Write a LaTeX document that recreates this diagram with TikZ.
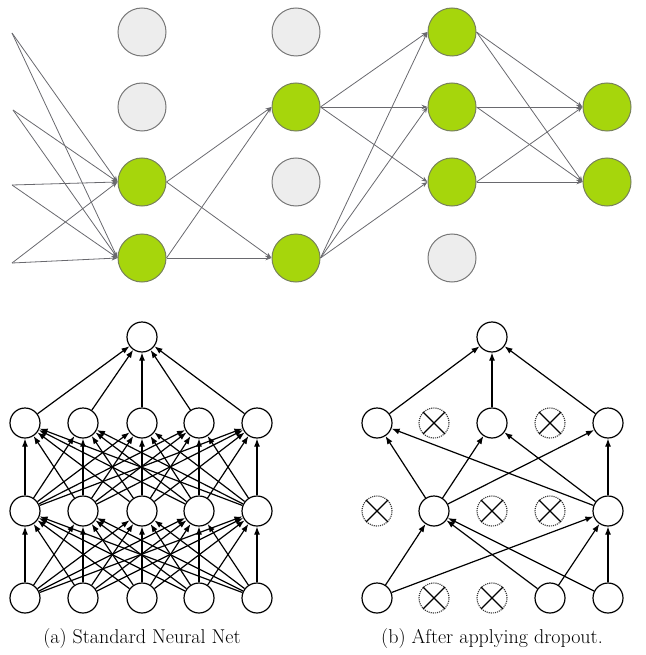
\documentclass[tikz,border=0pt]{standalone}
\usetikzlibrary{arrows.meta}
\definecolor{grn}{RGB}{166,214,12}
\definecolor{grnline}{RGB}{120,130,90}
\definecolor{gfill}{RGB}{237,237,237}
\definecolor{gline}{RGB}{120,120,120}
\definecolor{edgegray}{RGB}{105,105,110}
\begin{document}
\begin{tikzpicture}[x=1pt,y=-1pt,
  onnode/.style={circle,draw=grnline,fill=grn,line width=1pt,minimum size=48pt,inner sep=0pt},
  offnode/.style={circle,draw=gline,fill=gfill,line width=1pt,minimum size=48pt,inner sep=0pt},
  tedge/.style={draw=edgegray,line width=0.8pt,-{Stealth[length=6pt,width=4.5pt]}},
  unit/.style={circle,draw=black,line width=1.2pt,minimum size=30pt,inner sep=0pt},
  dropunit/.style={circle,draw=black!80,densely dotted,line width=1.1pt,minimum size=30pt,inner sep=0pt},
  bedge/.style={draw=black,line width=1.2pt,-{Latex[length=8pt,width=6pt]}},
  caption/.style={font=\fontsize{20}{24}\selectfont,anchor=base}]
\useasboundingbox (0,0) rectangle (645,655);
% ---------- top network ----------
\coordinate (i1) at (12,33);
\coordinate (i2) at (13,110);
\coordinate (i3) at (12,185);
\coordinate (i4) at (12,263);
\node[offnode] (tA1) at (142,32) {};
\node[offnode] (tA2) at (142,107) {};
\node[onnode]  (tA3) at (142,182) {};
\node[onnode]  (tA4) at (142,258) {};
\node[offnode] (tB1) at (296,32) {};
\node[onnode]  (tB2) at (296,107) {};
\node[offnode] (tB3) at (296,182) {};
\node[onnode]  (tB4) at (296,258) {};
\node[onnode]  (tC1) at (452,32) {};
\node[onnode]  (tC2) at (452,107) {};
\node[onnode]  (tC3) at (452,182) {};
\node[offnode] (tC4) at (452,258) {};
\node[onnode]  (tD2) at (607,107) {};
\node[onnode]  (tD3) at (607,182) {};
\foreach \i in {i1,i2,i3,i4} {
  \draw[tedge] (\i) -- (tA3.west);
  \draw[tedge] (\i) -- (tA4.west);
}
\foreach \a in {tA3,tA4} \foreach \b in {tB2,tB4} \draw[tedge] (\a.east) -- (\b.west);
\foreach \a in {tB2,tB4} \foreach \b in {tC1,tC2,tC3} \draw[tedge] (\a.east) -- (\b.west);
\foreach \a in {tC1,tC2,tC3} \foreach \b in {tD2,tD3} \draw[tedge] (\a.east) -- (\b.west);
% ---------- (a) standard net ----------
\node[unit] (a0) at (142,337) {};
\foreach \k/\x in {1/25,2/83,3/142,4/199,5/257} {
  \node[unit] (a1\k) at (\x,423) {};
  \node[unit] (a2\k) at (\x,511) {};
  \node[unit] (a3\k) at (\x,598) {};
}
\foreach \k in {1,...,5} {
  \draw[bedge] (a1\k) -- (a0);
  \foreach \j in {1,...,5} {
    \draw[bedge] (a2\j) -- (a1\k);
    \draw[bedge] (a3\j) -- (a2\k);
  }
}
\node[caption] (capa) at (142,643) {(a) Standard Neural Net};
% ---------- (b) dropout net ----------
\node[unit] (b0) at (492,337) {};
\node[unit]     (b11) at (377,423) {};
\node[dropunit] (b12) at (434,423) {};
\node[unit]     (b13) at (492,423) {};
\node[dropunit] (b14) at (550,423) {};
\node[unit]     (b15) at (608,423) {};
\node[dropunit] (b21) at (377,511) {};
\node[unit]     (b22) at (434,511) {};
\node[dropunit] (b23) at (492,511) {};
\node[dropunit] (b24) at (550,511) {};
\node[unit]     (b25) at (608,511) {};
\node[unit]     (b31) at (377,598) {};
\node[dropunit] (b32) at (434,598) {};
\node[dropunit] (b33) at (492,598) {};
\node[unit]     (b34) at (550,598) {};
\node[unit]     (b35) at (608,598) {};
\foreach \n in {b12,b14,b21,b23,b24,b32,b33} {
  \draw[black,line width=1.2pt] (\n.45) -- (\n.225) (\n.135) -- (\n.315);
}
\foreach \n in {b11,b13,b15} \draw[bedge] (\n) -- (b0);
\foreach \a in {b22,b25} \foreach \b in {b11,b13,b15} \draw[bedge] (\a) -- (\b);
\foreach \a in {b31,b34,b35} \foreach \b in {b22,b25} \draw[bedge] (\a) -- (\b);
\node[caption] (capb) at (492,643) {(b) After applying dropout.};
\end{tikzpicture}
\end{document}
